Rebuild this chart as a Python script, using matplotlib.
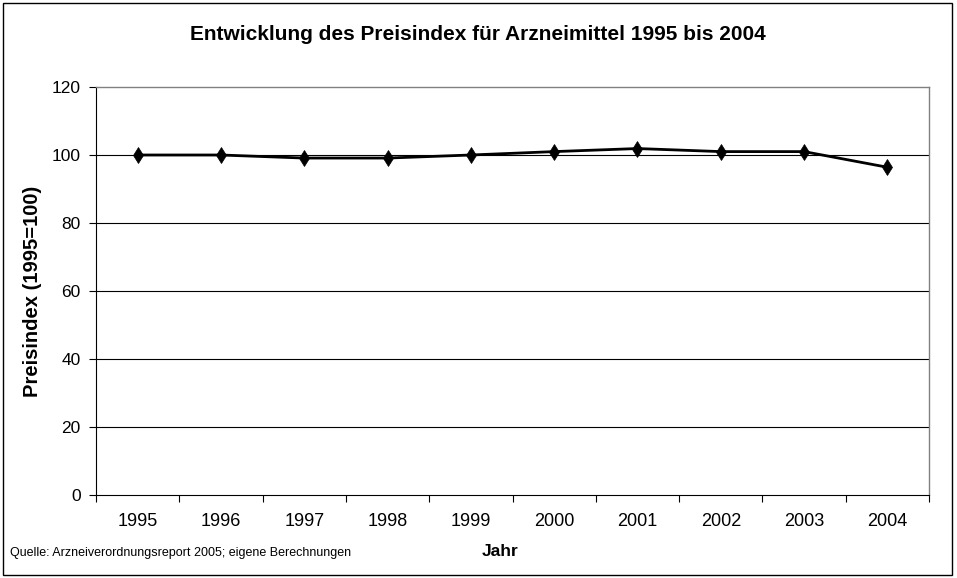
import matplotlib.pyplot as plt
from matplotlib.patches import Rectangle

plt.rcParams['font.family'] = ['Liberation Sans', 'DejaVu Sans']

# Daten
jahre = ['1995', '1996', '1997', '1998', '1999', '2000', '2001', '2002', '2003', '2004']
preisindex = [100.0, 100.0, 99.1, 99.1, 100.0, 101.0, 101.9, 101.0, 101.0, 96.4]
y_ticks = [0, 20, 40, 60, 80, 100, 120]

fig = plt.figure(figsize=(9.57, 5.78), dpi=100)
ax = fig.add_axes([96 / 957, 1 - 495 / 578, (929 - 96) / 957, (495 - 87) / 578])

x = list(range(len(jahre)))
ax.plot(x, preisindex, color='black', linewidth=2, marker='d', markersize=8,
        markeredgewidth=0.5, zorder=3, clip_on=False)

ax.set_xlim(-0.5, len(jahre) - 0.5)
ax.set_ylim(0, 120)
ax.set_yticks(y_ticks)
ax.set_xticks(x)
ax.set_xticklabels(jahre)
ax.set_xticks([i - 0.5 for i in range(len(jahre) + 1)], minor=True)
ax.tick_params(axis='x', which='major', length=0, pad=13, labelsize=13)
ax.tick_params(axis='x', which='minor', length=5, direction='out', width=0.8)
ax.tick_params(axis='y', length=5, direction='out', width=0.8, labelsize=12.5, pad=6)

# Gitternetzlinien
for v in y_ticks[1:-1]:
    ax.axhline(v, color='black', linewidth=0.8, zorder=1)

for side in ['top', 'right']:
    ax.spines[side].set_color('#808080')
    ax.spines[side].set_linewidth(1)
for side in ['left', 'bottom']:
    ax.spines[side].set_color('black')
    ax.spines[side].set_linewidth(0.8)

fig.text(33 / 957, 1 - 291 / 578, 'Preisindex (1995=100)', fontsize=14.5, fontweight='bold',
         rotation=90, ha='center', va='center')
fig.text(500 / 957, 1 - 551 / 578, 'Jahr', fontsize=12.5, fontweight='bold',
         ha='center', va='center')
fig.text(10 / 957, 1 - 553 / 578, 'Quelle: Arzneiverordnungsreport 2005; eigene Berechnungen',
         fontsize=9, ha='left', va='center')
fig.text(478 / 957, 1 - 35 / 578, 'Entwicklung des Preisindex für Arzneimittel 1995 bis 2004',
         fontsize=15, fontweight='bold', ha='center', va='center')

# Rahmen um die Grafik
fig.patches.append(Rectangle((3 / 957, 3 / 578), 949 / 957, 572 / 578,
                             transform=fig.transFigure, fill=False,
                             edgecolor='black', linewidth=1))

fig.savefig('out.png', dpi=100)
